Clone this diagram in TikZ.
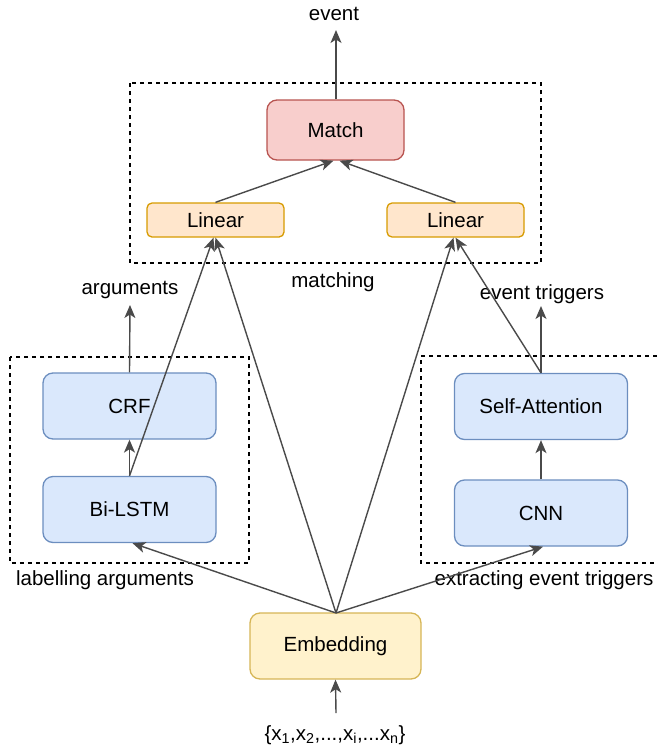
\documentclass[tikz,border=0pt]{standalone}
\usepackage{fontspec}
\setmainfont{Liberation Sans}
\usetikzlibrary{arrows.meta}
\definecolor{lineg}{HTML}{4A4A4A}
\definecolor{bluef}{HTML}{DAE8FC}\definecolor{blued}{HTML}{6C8EBF}
\definecolor{orgf}{HTML}{FFE6CC}\definecolor{orgd}{HTML}{D79B00}
\definecolor{redf}{HTML}{F8CECC}\definecolor{redd}{HTML}{B85450}
\definecolor{yelf}{HTML}{FFF2CC}\definecolor{yeld}{HTML}{D6B656}
\tikzset{
  every node/.style={font=\fontsize{20.5}{24}\selectfont, inner sep=0pt},
  bigbox/.style={draw, line width=1.3pt, rounded corners=10pt, minimum width=#1, minimum height=66pt},
  bluebox/.style={bigbox=173pt, fill=bluef, draw=blued},
  linbox/.style={draw=orgd, fill=orgf, line width=1.3pt, rounded corners=5pt, minimum width=137pt, minimum height=34pt},
  matchbox/.style={draw=redd, fill=redf, line width=1.3pt, rounded corners=10pt, minimum width=137pt, minimum height=60pt},
  embbox/.style={draw=yeld, fill=yelf, line width=1.3pt, rounded corners=10pt, minimum width=171pt, minimum height=66pt},
  conn/.style={draw=lineg, line width=1.4pt, -{Stealth[length=13pt,width=11pt,inset=3.5pt]}},
  group/.style={draw=black, line width=1.3pt, dash pattern=on 4pt off 4pt},
  lbl/.style={text=black}
}
\begin{document}
\begin{tikzpicture}[x=1pt,y=-1pt]
\useasboundingbox (0,0) rectangle (657,750);
% group boxes
\draw[group] (130,83) rectangle (541,263);
\draw[group] (10,357) rectangle (249,563);
\draw[group] (657,356) -- (421,356) -- (421,563) -- (657,563);
% nodes
\node[matchbox] (match) at (335.5,130) {Match};
\node[linbox] (linL) at (215.5,220) {Linear};
\node[linbox] (linR) at (455.5,220) {Linear};
\node[bluebox] (crf) at (129.5,406) {CRF};
\node[bluebox] (lstm) at (129.5,509.5) {Bi-LSTM};
\node[bluebox] (satt) at (541,406.5) {Self-Attention};
\node[bluebox] (cnn) at (541,513) {CNN};
\node[embbox] (emb) at (335.5,646) {Embedding};
% labels
\node[lbl] (ev) at (334,14) {event};
\node[lbl] (mt) at (333,282) {matching};
\node[lbl] (args) at (130,290) {arguments};
\node[lbl] (evt) at (542,294) {event triggers};
\node[lbl] (la) at (105,580) {labelling arguments};
\node[lbl] (eet) at (544,580) {extracting event triggers};
\node[lbl] (inp) at (335,735) {\{x\textsubscript{1},x\textsubscript{2},...,x\textsubscript{i},...x\textsubscript{n}\}};
\coordinate (evtip) at (336,30);
\coordinate (argtip) at (130,305);
\coordinate (evttip) at (541,306);
\coordinate (inbot) at (336,713);
\coordinate (embtop) at (336,613);
% connectors
\draw[conn] (match.north -| evtip) -- (evtip);
\draw[conn] (linL.north) -- ([xshift=-2pt]match.south);
\draw[conn] (linR.north) -- ([xshift=4pt]match.south);
\draw[conn] (crf.north) -- (argtip);
\draw[conn] (lstm.north) -- (crf.south);
\draw[conn] (lstm.north) -- ([xshift=-2pt]linL.south);
\draw[conn] (satt.north) -- (evttip);
\draw[conn] (cnn.north) -- (satt.south);
\draw[conn] (satt.north) -- (linR.south);
\draw[conn] (inbot) -- (emb.south);
\draw[conn] (embtop) -- ([xshift=3pt]lstm.south);
\draw[conn] (embtop) -- ([xshift=2pt]cnn.south);
\draw[conn] (embtop) -- (linL.south);
\draw[conn] (embtop) -- ([xshift=-2pt]linR.south);
\end{tikzpicture}
\end{document}
